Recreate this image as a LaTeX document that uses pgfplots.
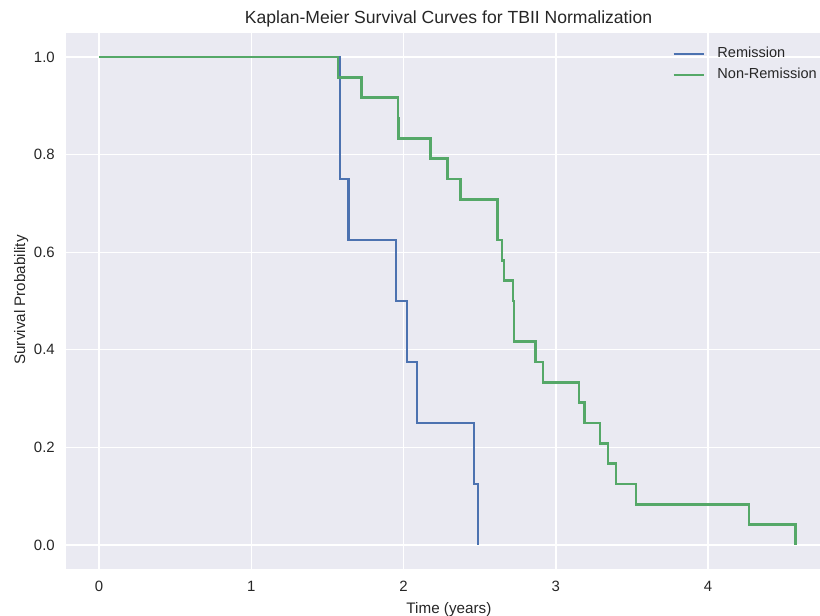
\documentclass[border=0pt]{standalone}
\usepackage{fontspec}
\setmainfont{Liberation Sans}
\usepackage{pgfplots}
\pgfplotsset{compat=1.18}
\definecolor{bgc}{RGB}{234,234,242}
\definecolor{txt}{RGB}{38,38,38}
\definecolor{sblue}{RGB}{76,114,176}
\definecolor{sgreen}{RGB}{85,168,104}
\begin{document}
\begin{tikzpicture}
\begin{axis}[
  at={(0,0)}, anchor=south west,
  scale only axis, width=542.88bp, height=386.5bp,
  xmin=-0.217, xmax=4.735, ymin=-0.05, ymax=1.05,
  xtick={0,1,2,3,4}, ytick={0,0.2,0.4,0.6,0.8,1.0},
  /pgf/number format/assume math mode=true,
  yticklabel style={/pgf/number format/fixed, /pgf/number format/fixed zerofill, /pgf/number format/precision=1},
  tick label style={font=\fontsize{10.8}{12}\selectfont, text=txt},
  xticklabel style={anchor=base, inner sep=0pt, yshift=-16.06bp},
  yticklabel style={anchor=east, inner sep=0pt, xshift=-7.9bp},
  major tick length=0pt,
  axis line style={draw=none},
  axis background/.style={fill=bgc},
  grid=major,
  major grid style={white, line width=1bp},
  no markers,
  legend cell align=left,
  legend style={draw=none, fill=none, at={(rel axis cs:0.8042,1)}, anchor=north west,
    yshift=-10.6bp, inner sep=0pt, outer sep=0pt, row sep=4.8bp, column sep=9.1bp,
    font=\fontsize{10.5}{12}\selectfont, text=txt,
    nodes={inner sep=0pt, text height=7.5bp, text depth=2.5bp}},
  legend image code/.code={\draw[#1, line width=1.75bp] (0bp,0bp) -- (21.6bp,0bp);},
]
\addplot[sblue, line width=1.75bp, const plot] coordinates {
(0,1) (1.583,0.75) (1.638,0.625) (1.950,0.5) (2.023,0.375) (2.087,0.25) (2.463,0.125) (2.490,0)
};
\addlegendentry{Remission}
\addplot[sgreen, line width=1.75bp, const plot] coordinates {
(0,1) (1.568,0.9583) (1.723,0.9167) (1.962,0.875) (1.968,0.8333) (2.176,0.7917) (2.288,0.75)
(2.373,0.7083) (2.616,0.625) (2.647,0.5833) (2.660,0.5417) (2.719,0.5) (2.726,0.4167)
(2.866,0.375) (2.914,0.3333) (3.153,0.2917) (3.188,0.25) (3.291,0.2083) (3.343,0.1667)
(3.396,0.125) (3.528,0.0833) (4.267,0.0417) (4.573,0)
};
\addlegendentry{Non-Remission}
\end{axis}
\node[anchor=base, inner sep=0pt, font=\fontsize{12.7}{14}\selectfont, text=txt] at (275.4bp,392.7bp) {Kaplan-Meier Survival Curves for TBII Normalization};
\node[anchor=base, inner sep=0pt, font=\fontsize{11}{13}\selectfont, text=txt] at (275.7bp,-31.6bp) {Time (years)};
\node[anchor=base, inner sep=0pt, rotate=90, font=\fontsize{11}{13}\selectfont, text=txt] at (-29.5bp,194bp) {Survival Probability};
\pgfresetboundingbox
\useasboundingbox (-47.52bp,-33.55bp) rectangle (542.88bp,409.97bp);
\end{tikzpicture}
\end{document}
